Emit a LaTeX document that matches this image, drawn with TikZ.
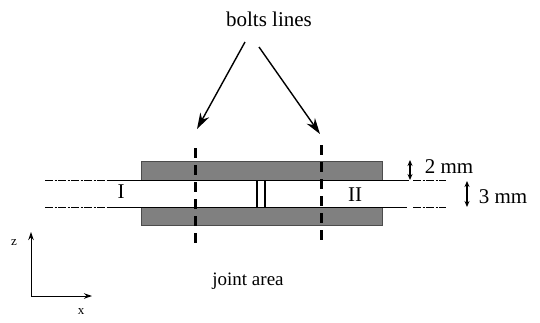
\documentclass[tikz,border=0pt]{standalone}
\usepackage{fontspec}
\setmainfont{Liberation Serif}
\usetikzlibrary{arrows.meta, positioning}
\tikzset{
  plate/.style={draw=black!70, line width=1pt, fill=black!50, rectangle, inner sep=0pt, minimum width=241pt, minimum height=18.5pt},
  wall/.style={line width=1.3pt},
  farwall/.style={line width=1.1pt, dash pattern=on 8pt off 1.5pt on 2pt off 1.5pt},
  boltline/.style={line width=3pt, dash pattern=on 10pt off 7pt},
  pointer/.style={line width=1.4pt, -{Stealth[length=16pt,width=10pt]}},
  gauge/.style={line width=1.2pt, {Stealth[length=6pt,width=5pt]}-{Stealth[length=6pt,width=5pt]}},
  axis/.style={line width=1pt, -{Stealth[length=8pt,width=5.5pt]}},
  big/.style={inner sep=0pt, font=\fontsize{21}{25}\selectfont},
  small/.style={inner sep=0pt, font=\fontsize{13}{15}\selectfont}
}
\begin{document}
\begin{tikzpicture}[x=1pt, y=-1pt]
  \useasboundingbox (0,0) rectangle (540,322);
  \fill[white] (0,0) rectangle (540,322);

  % plates
  \node (upper) at (262,171) [plate] {};
  \node (lower) at (262,216.5) [plate] {};

  % sheet ends
  \coordinate (ulfar) at (45,180.2);
  \coordinate (ulend) at (108,180.2);
  \coordinate (llfar) at (45,207.4);
  \coordinate (llend) at (108,207.4);
  \coordinate (urend) at (409,180.2);
  \coordinate (urfar) at (446,180.2);
  \coordinate (lrend) at (407,207.4);
  \coordinate (lrfar) at (446,207.4);
  \draw[farwall] (ulfar) -- (ulend);
  \draw[farwall] (llfar) -- (llend);
  \draw[wall] (ulend) -- (urend);
  \draw[wall] (llend) -- (lrend);
  \draw[farwall] (urend) ++(4,0) -- (urfar);
  \draw[farwall] (lrend) ++(6,0) -- (lrfar);

  % gap between the sheets
  \coordinate (gapa) at (257,180.2);
  \coordinate (gapb) at (257,207.4);
  \coordinate (gapc) at (265,180.2);
  \coordinate (gapd) at (265,207.4);
  \draw[line width=1.2pt] (gapa) -- (gapb);
  \draw[line width=2.2pt] (gapc) -- (gapd);

  % bolts
  \coordinate (bolta) at (195,148);
  \coordinate (boltb) at (195,244);
  \coordinate (boltc) at (321,145);
  \coordinate (boltd) at (321,241);
  \draw[boltline] (bolta) -- (boltb);
  \draw[boltline] (boltc) -- (boltd);

  % labels
  \node (bolts) at (269,19) [big] {bolts lines};
  \node (joint) at (248,281) [big, font=\fontsize{19}{23}\selectfont] {joint area};
  \node (one) at (121,192) [big] {I};
  \node (two) at (355,195) [big] {II};
  \node (twomm) at (449,167) [big] {2 mm};
  \node (threemm) at (503,197) [big] {3 mm};
  \node (zlabel) at (14,243) [small] {z};
  \node (xlabel) at (81,312) [small] {x};

  % arrows
  \coordinate (pa) at (245,42);
  \coordinate (pb) at (197,129);
  \coordinate (pc) at (259,47);
  \coordinate (pd) at (320,134);
  \draw[pointer] (pa) -- (pb);
  \draw[pointer] (pc) -- (pd);

  \coordinate (ga) at (410,160);
  \coordinate (gb) at (410,180);
  \coordinate (gc) at (467,181);
  \coordinate (gd) at (467,207);
  \draw[gauge] (ga) -- (gb);
  \draw[gauge] (gc) -- (gd);

  % axes
  \coordinate (origin) at (31,296);
  \coordinate (zend) at (31,232);
  \coordinate (xend) at (92,296);
  \draw[axis] (origin) -- (zend);
  \draw[axis] (origin) -- (xend);
\end{tikzpicture}
\end{document}
